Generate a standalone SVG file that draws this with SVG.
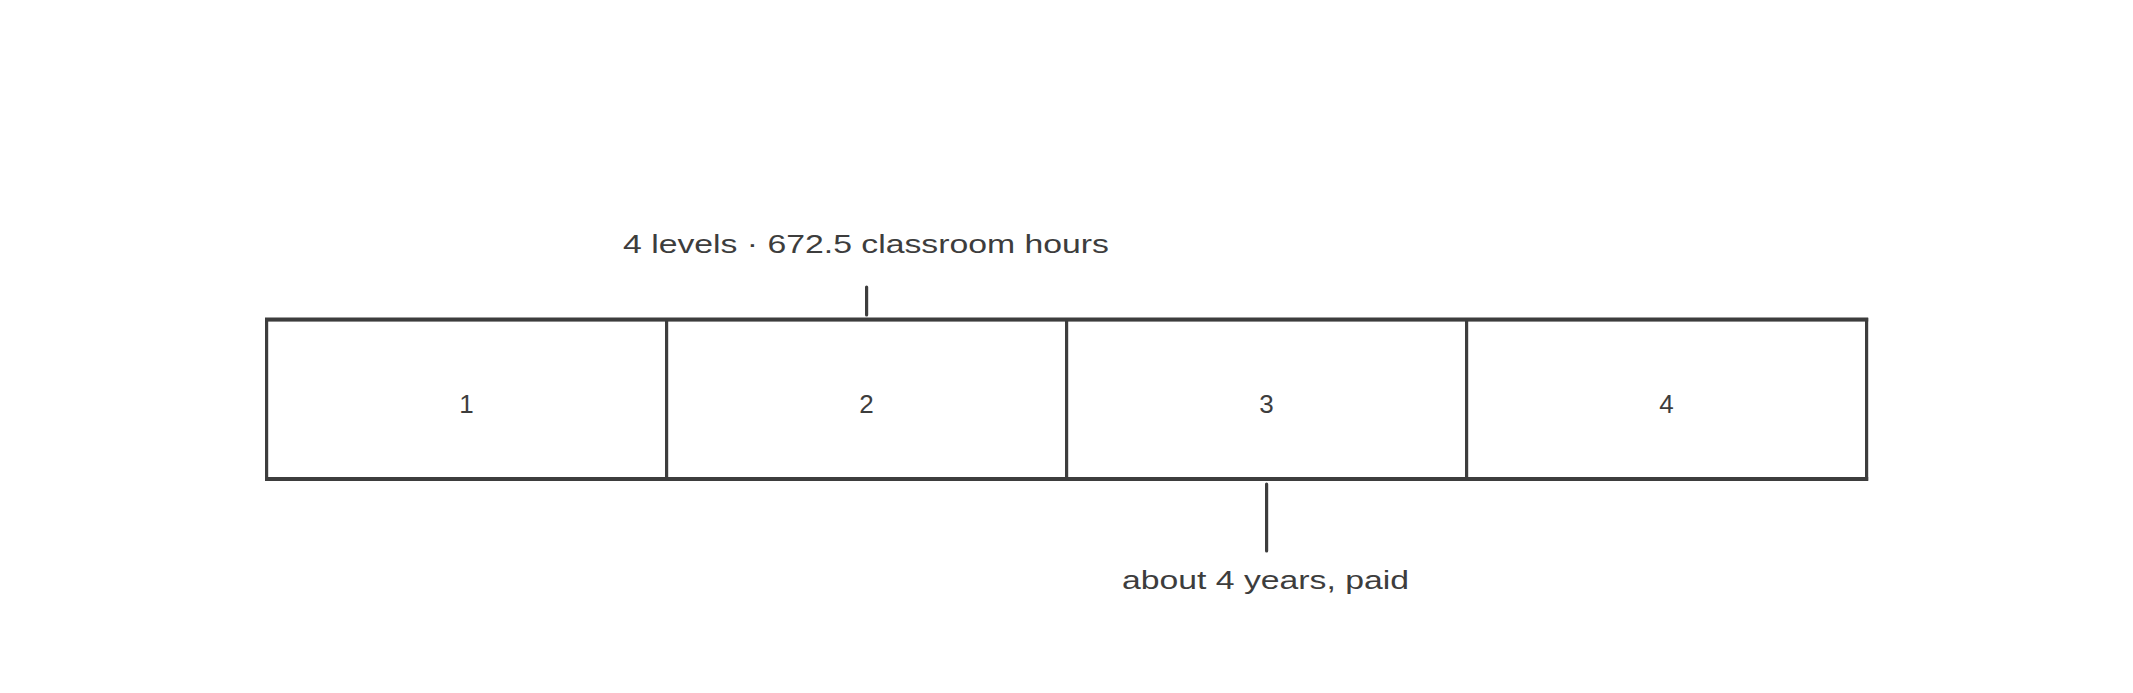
<svg xmlns="http://www.w3.org/2000/svg" width="2133" height="693" viewBox="0 0 2133 693">
<style>
.cell{fill:#ffffff;stroke:#3d3d3d;stroke-width:3.2;}
.rail{stroke:#3d3d3d;stroke-width:4;fill:none;}
.edge{stroke:#3d3d3d;stroke-width:3.2;stroke-linecap:round;fill:none;}
.lbl{font-family:"Liberation Sans",Arial,sans-serif;font-size:26px;fill:#3d3d3d;}
.num{font-family:"Liberation Sans",Arial,sans-serif;font-size:26px;fill:#3d3d3d;text-anchor:middle;}
</style>
<rect x="0" y="0" width="2133" height="693" fill="#ffffff"/>
<g id="cell1"><rect class="cell" x="266.6" y="319.6" width="400" height="159.4"/><text class="num" x="466.6" y="413">1</text></g>
<g id="cell2"><rect class="cell" x="666.6" y="319.6" width="400" height="159.4"/><text class="num" x="866.6" y="413">2</text></g>
<g id="cell3"><rect class="cell" x="1066.6" y="319.6" width="400" height="159.4"/><text class="num" x="1266.6" y="413">3</text></g>
<g id="cell4"><rect class="cell" x="1466.6" y="319.6" width="400" height="159.4"/><text class="num" x="1666.6" y="413">4</text></g>
<g id="rails"><line class="rail" x1="265" y1="319.6" x2="1868.2" y2="319.6"/><line class="rail" x1="265" y1="479" x2="1868.2" y2="479"/></g>
<g id="label-top"><text class="lbl" x="623" y="253" textLength="486" lengthAdjust="spacingAndGlyphs">4 levels · 672.5 classroom hours</text></g>
<g id="label-bottom"><text class="lbl" x="1122" y="589" textLength="287" lengthAdjust="spacingAndGlyphs">about 4 years, paid</text></g>
<g id="connectors">
<line class="edge" x1="866.6" y1="287" x2="866.6" y2="315"/>
<line class="edge" x1="1266.6" y1="484" x2="1266.6" y2="551"/>
</g>
</svg>
